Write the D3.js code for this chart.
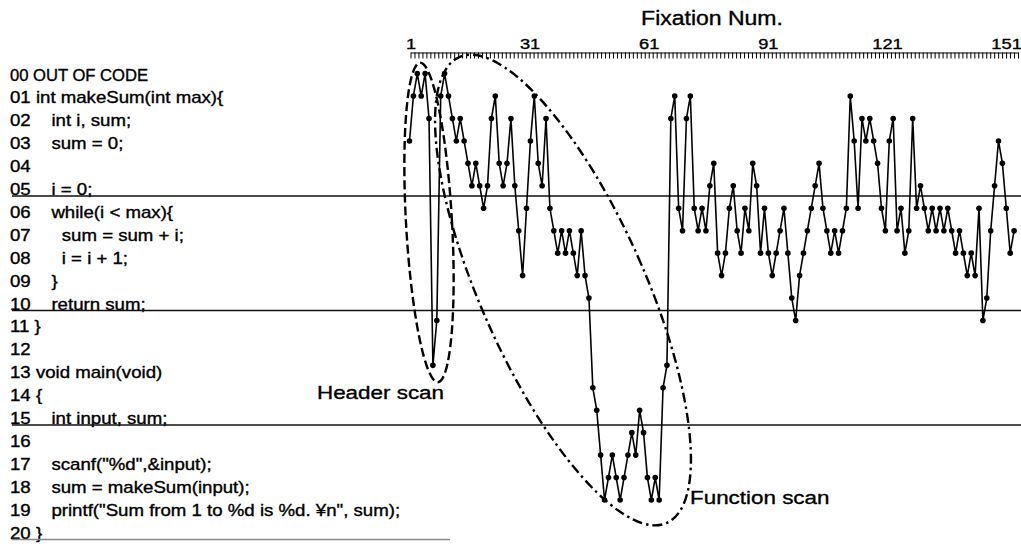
<!DOCTYPE html>
<html><head><meta charset="utf-8">
<script src="https://cdn.jsdelivr.net/npm/d3@7"></script>
<style>
html,body{margin:0;padding:0;background:#fff;}
svg{display:block;}
text{font-family:"Liberation Sans",Arial,sans-serif;fill:#000;white-space:pre;stroke:#000;stroke-width:0.35px;}
</style></head>
<body>
<svg id="chart" width="1021" height="545"></svg>
<script>
// ---- data ----
const codeLines = [
  "00 OUT OF CODE",
  "01 int makeSum(int max){",
  "02    int i, sum;",
  "03    sum = 0;",
  "04",
  "05    i = 0;",
  "06    while(i < max){",
  "07      sum = sum + i;",
  "08      i = i + 1;",
  "09    }",
  "10    return sum;",
  "11 }",
  "12",
  "13 void main(void)",
  "14 {",
  "15    int input, sum;",
  "16",
  "17    scanf(\"%d\",&input);",
  "18    sum = makeSum(input);",
  "19    printf(\"Sum from 1 to %d is %d. \u00a5n\", sum);",
  "20 }"
];
// code line (0-20) looked at, per fixation 1..156
const fixationLines = [
  3,1,0,1,0,2,13,11,1,0,
  1,2,3,2,3,4,5,4,5,6,
  5,2,1,4,5,4,2,5,7,9,
  6,3,1,4,5,2,6,7,8,7,
  8,7,8,9,7,9,10,14,15,17,
  19,18,17,18,19,18,17,16,17,15,
  16,18,19,18,19,14,13,2,1,6,
  7,2,1,6,7,6,7,5,4,8,
  9,8,6,5,7,8,6,7,4,5,
  8,6,8,9,8,7,6,8,10,11,
  9,8,7,6,5,4,6,7,8,7,
  8,7,6,1,3,6,2,3,2,3,
  4,6,7,3,2,7,6,8,7,2,
  6,5,6,7,6,7,6,7,6,7,
  8,7,8,9,8,9,6,11,10,7,
  5,3,4,6,8,7
];
const tickLabels = [1,31,61,91,121,151];
const axisMax = 154;
const separatorAfter = [5,10,15,20];
const annotations = ["Header scan","Function scan"];

// ---- drawing ----
const svg = d3.select("#chart");
const SX = 1.18;
function stext(sel, x, y, str, size, anchor){
  return sel.append("text")
    .attr("transform",`translate(${x},${y}) scale(${SX},1)`)
    .attr("text-anchor",anchor||"start")
    .attr("font-size",size)
    .text(str);
}

const fixNums = fixationLines.map((d,i)=>i+1);
const x = d3.scaleLinear().domain([1,157]).range([409.5,1018]);
const xAxisScale = d3.scaleLinear().domain([1,axisMax]).range([410.5,1018]);
const y = d3.scaleLinear().domain([0,19]).range([73.6,500]);
const row = d3.scaleLinear().domain([0,20]).range([75,533]);

// code labels
const lab = svg.append("g");
codeLines.forEach((s,i)=>{
  const t = stext(lab,10,row(i)+5.5,s,"15.8px");
  if(i===0) t.attr("textLength",117).attr("lengthAdjust","spacingAndGlyphs");
});

// separator lines
separatorAfter.forEach(n=>{
  svg.append("line")
    .attr("x1",12).attr("x2", n===20?450:1021)
    .attr("y1",row(n)+6.5).attr("y2",row(n)+6.5)
    .attr("stroke", n===20?"#888":"#111").attr("stroke-width",1.5);
});

// top axis
const axis = d3.axisTop(xAxisScale)
  .tickValues(d3.range(1,axisMax+1))
  .tickSizeInner(-6).tickSizeOuter(0).tickPadding(4)
  .tickFormat(d=>tickLabels.includes(d)?String(d):"");
const ag = svg.append("g").attr("transform","translate(0,52.5)").call(axis);
ag.select(".domain").attr("stroke","#000").attr("stroke-width",1.2);
ag.selectAll(".tick line").attr("stroke","#000").attr("stroke-width",1);
ag.selectAll(".tick text")
  .attr("font-family","'Liberation Sans',Arial,sans-serif")
  .attr("font-size","15.5px").attr("fill","#000")
  .attr("transform",`scale(${SX},1)`);

stext(svg,712,25,"Fixation Num.","19.5px","middle");

// data line
const line = d3.line().x((d,i)=>x(fixNums[i])).y(d=>y(d));
svg.append("path").datum(fixationLines)
  .attr("d",line).attr("fill","none").attr("stroke","#000").attr("stroke-width",1.6)
  .attr("stroke-linejoin","round");
svg.append("g").selectAll("circle").data(fixationLines).join("circle")
  .attr("cx",(d,i)=>x(fixNums[i])).attr("cy",d=>y(d)).attr("r",2.8).attr("fill","#000");

// annotation ellipses
svg.append("ellipse")
  .attr("transform","translate(429,222.5) rotate(-3.2)")
  .attr("rx",23).attr("ry",160)
  .attr("fill","none").attr("stroke","#000").attr("stroke-width",2.4)
  .attr("stroke-dasharray","9,4");
svg.append("ellipse")
  .attr("transform","translate(563,290) rotate(-24)")
  .attr("rx",82).attr("ry",255)
  .attr("fill","none").attr("stroke","#000").attr("stroke-width",2.4)
  .attr("stroke-dasharray","10,4,2.5,4");

stext(svg,380.5,399,annotations[0],"19px","middle");
stext(svg,690,504,annotations[1],"19px","start");
</script>
</body></html>
